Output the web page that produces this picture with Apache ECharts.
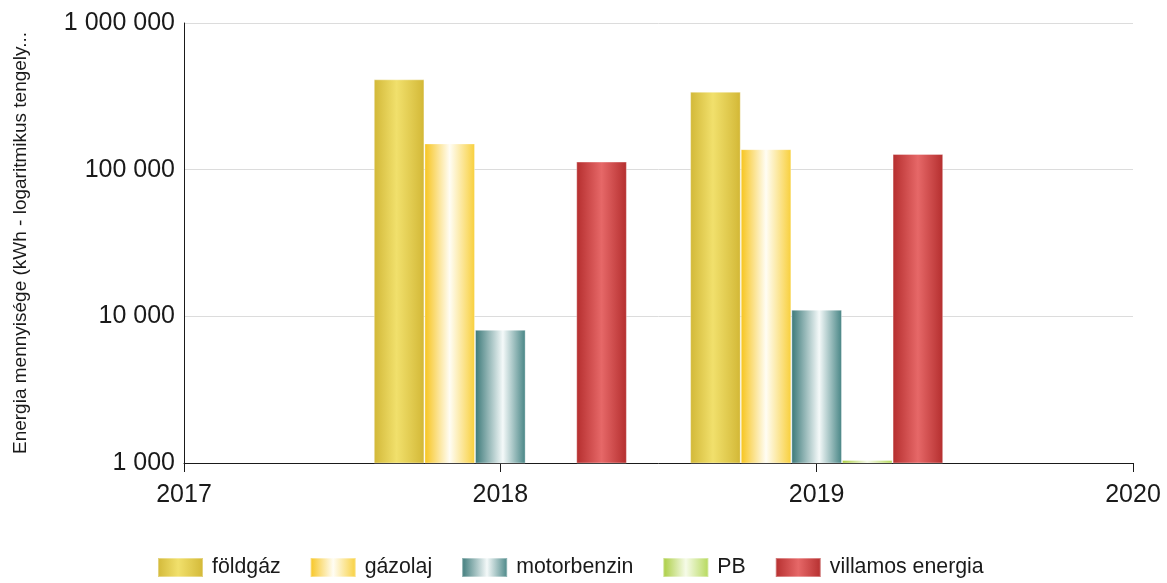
<!DOCTYPE html>
<html>
<head>
<meta charset="utf-8">
<script src="https://cdn.jsdelivr.net/npm/echarts@6/dist/echarts.min.js"></script>
<style>
  html, body { margin: 0; padding: 0; background: #ffffff; }
  #chart { width: 1167px; height: 583px; }
</style>
</head>
<body>
<div id="chart"></div>
<script>
// ---- data ----
const years = ['2017', '2018', '2019', '2020'];
const seriesNames = ['földgáz', 'gázolaj', 'motorbenzin', 'PB', 'villamos energia'];
const foldgaz     = [null, 413000, 340000, null];
const gazolaj     = [null, 151000, 138000, null];
const motorbenzin = [null, 8100, 11100, null];
const pb          = [null, null, 1050, null];
const villamos    = [null, 113500, 128000, null];
const yTickValues = [1000, 10000, 100000, 1000000];
const yAxisTitle = 'Energia mennyisége (kWh - logaritmikus tengely...';

const FONT = 'Liberation Sans, Arial, sans-serif';

function grad(stops) {
  return new echarts.graphic.LinearGradient(0, 0, 1, 0,
    stops.map(s => ({ offset: s[0], color: s[1] })));
}
const styles = [
  grad([[0, '#d2b838'], [0.45, '#f1e06c'], [0.9, '#d8bf40'], [1, '#d2b634']]),
  grad([[0, '#f7c41c'], [0.5, '#fffdf4'], [1, '#f8cf3a']]),
  grad([[0, '#3a7878'], [0.55, '#f4f9f9'], [1, '#468484']]),
  grad([[0, '#a8cc3c'], [0.5, '#f6fbe8'], [1, '#b4d858']]),
  grad([[0, '#b52e2e'], [0.5, '#e66868'], [1, '#b42e2e']])
];
const dataArr = [foldgaz, gazolaj, motorbenzin, pb, villamos];

function fmt(v) {
  return String(Math.round(v)).replace(/\B(?=(\d{3})+(?!\d))/g, ' ');
}

const chart = echarts.init(document.getElementById('chart'), null, { renderer: 'canvas' });
chart.setOption({
  animation: false,
  backgroundColor: '#ffffff',
  grid: { left: 184, right: 34, top: 23, bottom: 120, containLabel: false },
  legend: {
    data: seriesNames,
    left: 157,
    top: 557,
    padding: 0,
    icon: 'rect',
    itemWidth: 45,
    itemHeight: 19,
    itemGap: 29,
    textStyle: { fontFamily: FONT, fontSize: 21.3, color: '#1a1a1a', padding: [0, 0, 0, 4] }
  },
  xAxis: {
    type: 'category',
    data: years,
    boundaryGap: false,
    axisLine: { show: true, lineStyle: { color: '#1a1a1a', width: 1 } },
    axisTick: { show: true, length: 9, lineStyle: { color: '#1a1a1a' } },
    axisLabel: { fontFamily: FONT, fontSize: 25, color: '#1a1a1a', margin: 20, showMinLabel: true, showMaxLabel: true, interval: 0 },
    splitLine: { show: false }
  },
  yAxis: {
    type: 'log',
    logBase: 10,
    min: yTickValues[0],
    max: yTickValues[yTickValues.length - 1],
    name: yAxisTitle,
    nameLocation: 'middle',
    nameGap: 154,
    nameTextStyle: { fontFamily: FONT, fontSize: 19, color: '#1a1a1a' },
    axisLine: { show: true, lineStyle: { color: '#1a1a1a', width: 1 } },
    axisTick: { show: false },
    axisLabel: { fontFamily: FONT, fontSize: 25, color: '#1a1a1a', margin: 9, formatter: fmt },
    splitLine: { show: true, lineStyle: { color: '#dcdcdc', width: 1 } }
  },
  series: seriesNames.map((name, i) => ({
    name: name,
    type: 'bar',
    data: dataArr[i],
    barGap: '0%',
    barCategoryGap: '20%',
    clip: true,
    itemStyle: { color: styles[i], borderColor: 'rgba(255,255,255,0.35)', borderWidth: 1 }
  }))
});
</script>
</body>
</html>
